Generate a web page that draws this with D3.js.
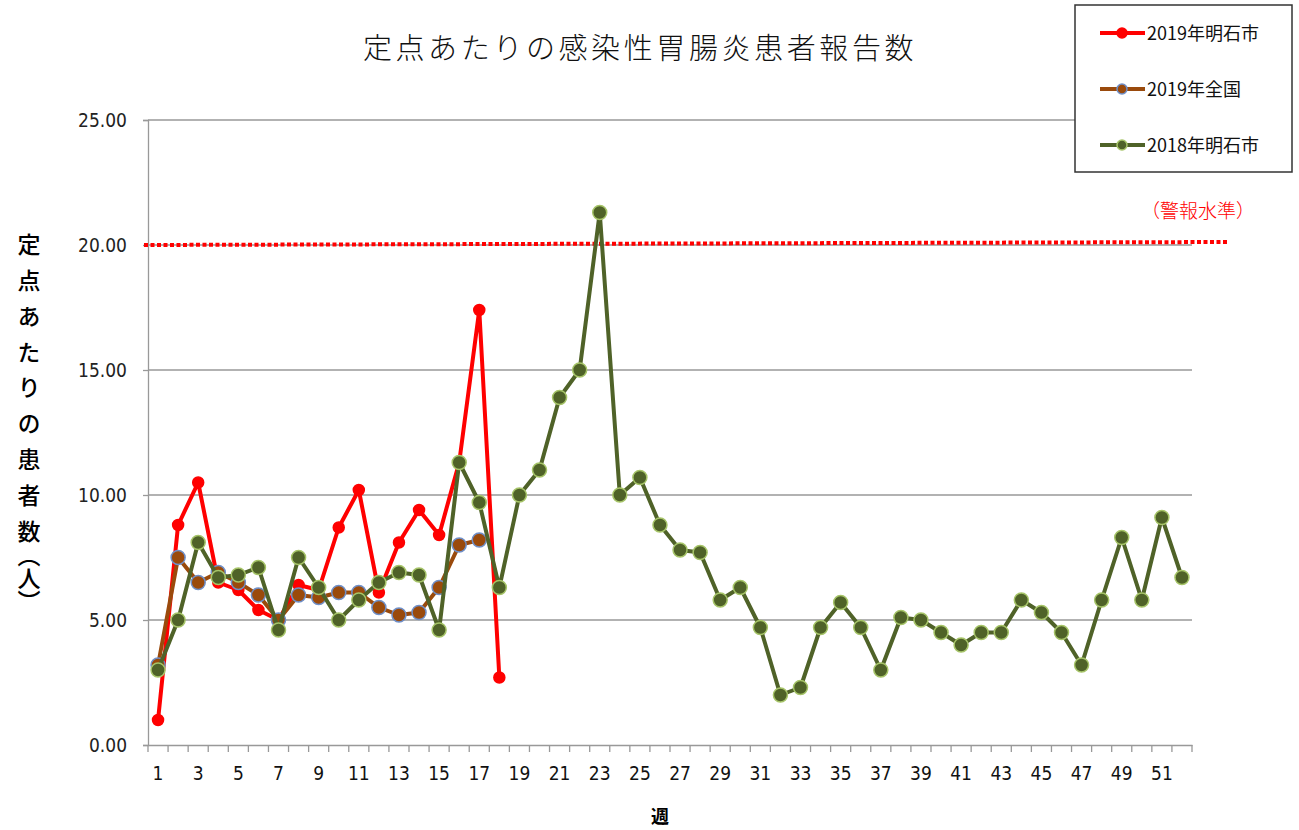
<!DOCTYPE html>
<html>
<head>
<meta charset="utf-8">
<script src="https://cdn.jsdelivr.net/npm/d3@7"></script>
<style>
 body { margin: 0; background: #fff; }
 svg { display: block; }
</style>
</head>
<body>
<svg id="graph"></svg>
<script>
// 週 (categories)
const weeks = [1,2,3,4,5,6,7,8,9,10,11,12,13,14,15,16,17,18,19,20,21,22,23,24,25,26,
 27,28,29,30,31,32,33,34,35,36,37,38,39,40,41,42,43,44,45,46,47,48,49,50,51,52];

// 2019年明石市
const akashi2019 = [1.0,8.8,10.5,6.5,6.2,5.4,5.0,6.4,6.2,8.7,10.2,6.1,8.1,9.4,8.4,11.3,17.4,2.7];
// 2019年全国
const zenkoku2019 = [3.2,7.5,6.5,6.9,6.5,6.0,5.0,6.0,5.9,6.1,6.1,5.5,5.2,5.3,6.3,8.0,8.2];
// 2018年明石市
const akashi2018 = [3.0,5.0,8.1,6.7,6.8,7.1,4.6,7.5,6.3,5.0,5.8,6.5,6.9,6.8,4.6,11.3,9.7,6.3,
 10.0,11.0,13.9,15.0,21.3,10.0,10.7,8.8,7.8,7.7,5.8,6.3,4.7,2.0,2.3,4.7,5.7,4.7,3.0,5.1,
 5.0,4.5,4.0,4.5,4.5,5.8,5.3,4.5,3.2,5.8,8.3,5.8,9.1,6.7];

const yTicks = [0,5,10,15,20,25];
const warnLevel = 20;

const seriesNames = ["2019年明石市","2019年全国","2018年明石市"];

function drawGraph() {
 let width = 1299;
 let height = 830;
 let left = 148, right = 1192, top = 120, bottom = 745;

 let svg = d3.select("#graph")
  .attr("width", width)
  .attr("height", height);

 let series = [
  {name: seriesNames[0], values: akashi2019, line: "#ff0000", fill: "#ff0000", edge: "#ff0000", r: 5.5},
  {name: seriesNames[1], values: zenkoku2019, line: "#9a4a0c", fill: "#9a4a0c", edge: "#6f8fc8", r: 7},
  {name: seriesNames[2], values: akashi2018, line: "#4f6228", fill: "#4f6228", edge: "#a6c468", r: 7}
 ];

 let scaleX = d3.scaleBand().domain(weeks).range([left, right]);
 let scaleY = d3.scaleLinear().domain([0, 25]).range([bottom, top]);
 let cx = w => scaleX(w) + scaleX.bandwidth() / 2;

 // タイトル
 svg.append("text")
  .attr("x", 640).attr("y", 59)
  .attr("text-anchor", "middle")
  .style("font-family", "'Noto Sans CJK JP'")
  .style("font-weight", 300)
  .style("font-size", "29px")
  .style("letter-spacing", "3.6px")
  .attr("fill", "#111")
  .text("定点あたりの感染性胃腸炎患者報告数");

 // グリッド線
 svg.append("g")
  .selectAll("line")
  .data(yTicks.filter(d => d > 0))
  .enter().append("line")
  .attr("x1", left).attr("x2", right)
  .attr("y1", d => scaleY(d)).attr("y2", d => scaleY(d))
  .attr("stroke", "#999").attr("stroke-width", 1.3);

 // Y軸
 let axisY = d3.axisLeft(scaleY).tickValues(yTicks).tickFormat(d => d.toFixed(2)).tickSize(5).tickPadding(16);
 let gy = svg.append("g")
  .attr("transform", `translate(${left},0)`)
  .call(axisY);
 gy.select(".domain").attr("stroke", "#999").attr("stroke-width", 1.3);
 gy.selectAll(".tick line").attr("stroke", "#999").attr("stroke-width", 1.3);
 gy.selectAll("text")
  .style("font-family", "'DejaVu Sans Condensed', 'DejaVu Sans'")
  .style("font-stretch", "condensed")
  .style("font-size", "19px")
  .attr("fill", "#222");

 // X軸
 let axisX = d3.axisBottom(scaleX).tickSize(0).tickPadding(22)
  .tickFormat(d => d % 2 == 1 ? d : "");
 let gx = svg.append("g")
  .attr("transform", `translate(0,${bottom})`)
  .call(axisX);
 gx.select(".domain").attr("stroke", "#999").attr("stroke-width", 1.3);
 gx.selectAll("text")
  .style("font-family", "'DejaVu Sans Condensed', 'DejaVu Sans'")
  .style("font-stretch", "condensed")
  .style("font-size", "19px")
  .attr("fill", "#111");
 // 目盛り（区切り）
 gx.append("g")
  .selectAll("line")
  .data(weeks.concat([weeks.length + 1]))
  .enter().append("line")
  .attr("x1", (d, i) => left + i * scaleX.step())
  .attr("x2", (d, i) => left + i * scaleX.step())
  .attr("y1", 0).attr("y2", 7)
  .attr("stroke", "#999").attr("stroke-width", 1.3);

 // 警報水準
 svg.append("line")
  .attr("x1", left - 4).attr("x2", right + 36)
  .attr("y1", scaleY(warnLevel)).attr("y2", scaleY(warnLevel) - 3)
  .attr("stroke", "#ff0000").attr("stroke-width", 4)
  .attr("stroke-dasharray", "4,2.5");
 svg.append("text")
  .attr("x", 1198).attr("y", 218)
  .attr("text-anchor", "middle")
  .style("font-family", "'Noto Sans CJK JP'")
  .style("font-weight", 300)
  .style("font-size", "19px")
  .attr("fill", "#ff0000")
  .text("（警報水準）");

 // 折れ線
 let line = d3.line()
  .x((d, i) => cx(weeks[i]))
  .y(d => scaleY(d));

 series.forEach(s => {
  svg.append("path")
   .datum(s.values)
   .attr("d", line)
   .attr("fill", "none")
   .attr("stroke", s.line)
   .attr("stroke-width", 4)
   .attr("stroke-linejoin", "round");
  svg.append("g")
   .selectAll("circle")
   .data(s.values)
   .enter().append("circle")
   .attr("cx", (d, i) => cx(weeks[i]))
   .attr("cy", d => scaleY(d))
   .attr("r", s.r)
   .attr("fill", s.fill)
   .attr("stroke", s.edge)
   .attr("stroke-width", 1.5);
 });

 // 軸ラベル
 let yl = svg.append("text")
  .attr("x", 29).attr("y", 233)
  .style("writing-mode", "vertical-rl")
  .style("font-family", "'Noto Sans CJK JP'")
  .style("font-weight", 500)
  .style("font-size", "23px")
  .attr("fill", "#000");
 yl.append("tspan")
  .style("letter-spacing", "12.8px")
  .text("定点あたりの患者数");
 yl.append("tspan")
  .style("font-feature-settings", "'vhal'")
  .style("letter-spacing", "0px")
  .text("（人）");

 svg.append("text")
  .attr("x", 660).attr("y", 823)
  .attr("text-anchor", "middle")
  .style("font-family", "'Noto Sans CJK JP'")
  .style("font-weight", 700)
  .style("font-size", "18px")
  .attr("fill", "#000")
  .text("週");

 // 凡例
 let lg = svg.append("g");
 lg.append("rect")
  .attr("x", 1075).attr("y", 5).attr("width", 217).attr("height", 167)
  .attr("fill", "#fff").attr("stroke", "#333").attr("stroke-width", 1.5);
 series.forEach((s, i) => {
  let y = 33 + i * 56;
  lg.append("line")
   .attr("x1", 1100).attr("x2", 1145).attr("y1", y).attr("y2", y)
   .attr("stroke", s.line).attr("stroke-width", 4);
  lg.append("circle")
   .attr("cx", 1122).attr("cy", y).attr("r", 5)
   .attr("fill", s.fill).attr("stroke", s.edge).attr("stroke-width", 1.5);
  lg.append("text")
   .attr("x", 1147).attr("y", y + 7)
   .style("font-family", "'Noto Sans CJK JP'")
   .style("font-size", "18px")
   .attr("fill", "#111")
   .text(s.name);
 });
}

drawGraph();
</script>
</body>
</html>
